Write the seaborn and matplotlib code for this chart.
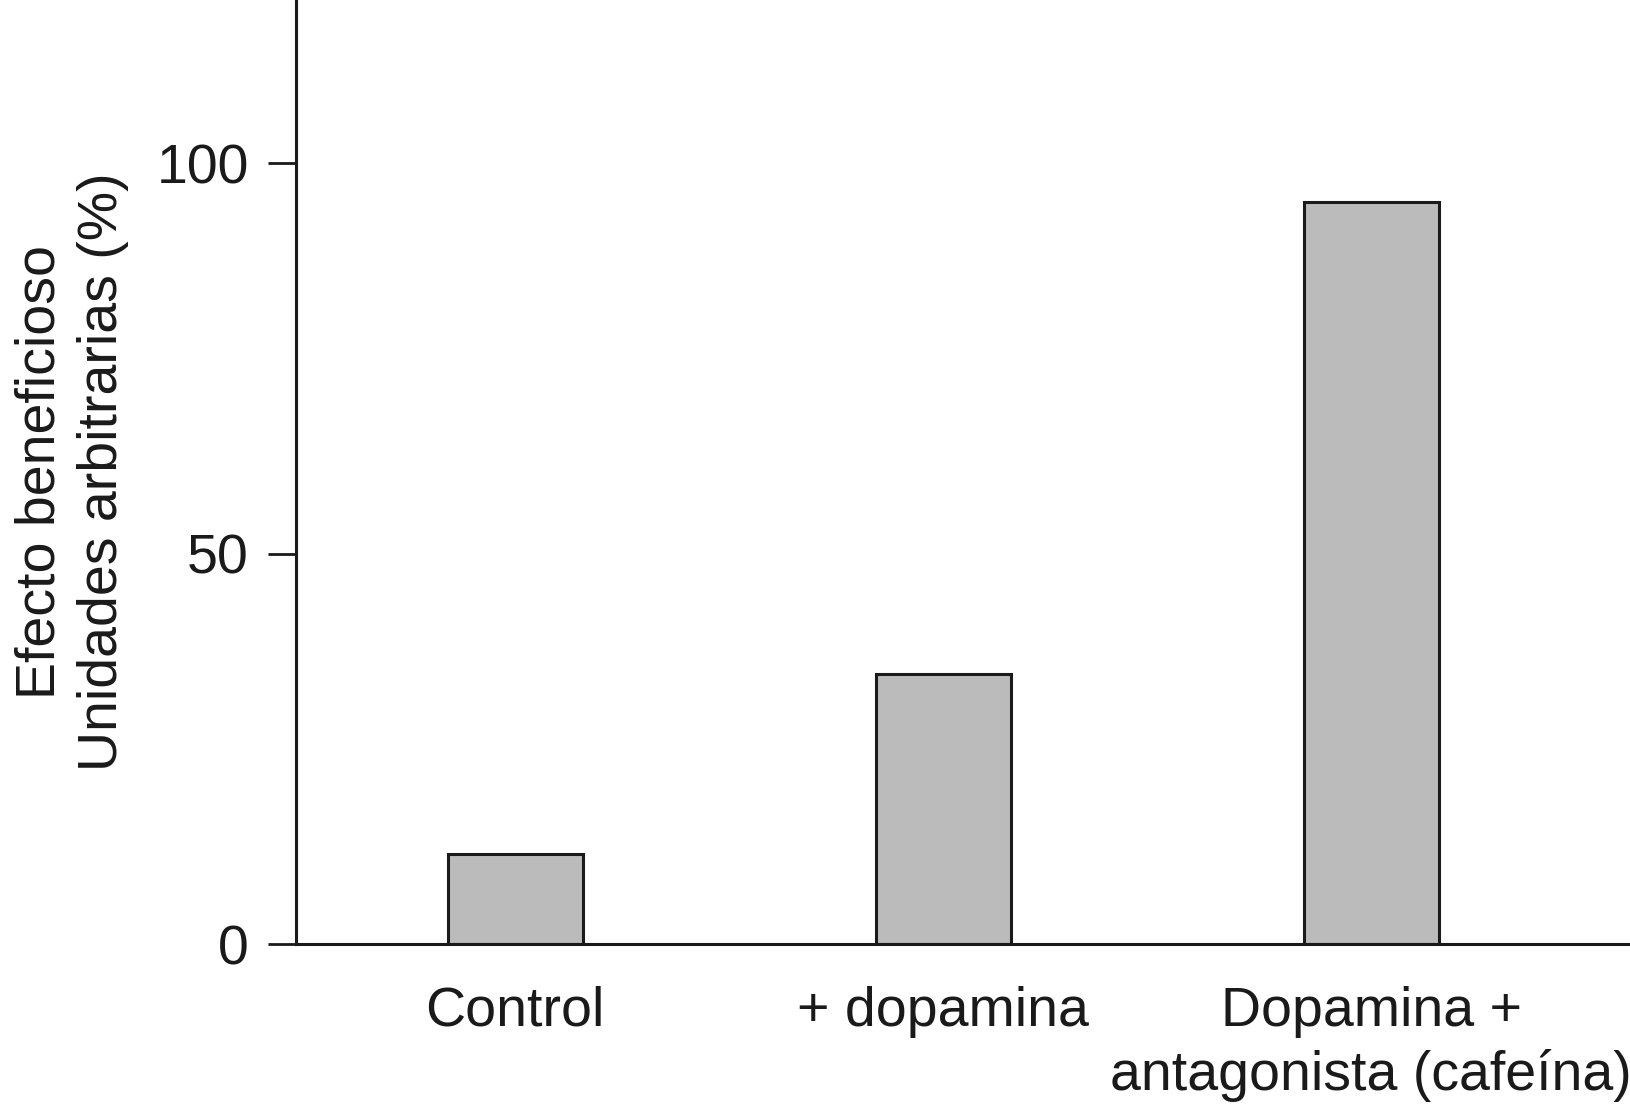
import matplotlib
matplotlib.use('Agg')
import matplotlib.pyplot as plt
import seaborn as sns
import pandas as pd

sns.set_style('ticks')
plt.rcParams['font.family'] = ['Liberation Sans', 'DejaVu Sans']

# values
grupos = ['Control', '+ dopamina', 'Dopamina +\nantagonista (cafeína)']
efecto = [11.5, 34.6, 95.0]
y_ticks = [0, 50, 100]

df = pd.DataFrame({'grupo': grupos, 'efecto': efecto})

dark = '#1a1a1a'

fig = plt.figure(figsize=(16.31, 11.11), dpi=100)
ax = fig.add_axes([0.1815, 0.1503, 0.8185, 0.8497])

sns.barplot(data=df, x='grupo', y='efecto', color='#bbbbbb', saturation=1,
            edgecolor=dark, linewidth=2.2, width=0.315, errorbar=None, ax=ax)

ax.set_xlim(-0.512, 2.607)
ax.set_ylim(0, 120.9)
ax.set_yticks(y_ticks)
ax.set_xlabel('')
ax.set_ylabel('Efecto beneficioso\nUnidades arbitrarias (%)', fontsize=40,
              color=dark, linespacing=1.27)
ax.yaxis.set_label_coords(-0.125, 0.5)

ax.tick_params(axis='y', length=20, width=2, pad=14, labelsize=40,
               color=dark, labelcolor=dark)
ax.tick_params(axis='x', length=0, pad=30, labelsize=40, labelcolor=dark)
for lab in ax.get_xticklabels():
    lab.set_linespacing(1.27)

sns.despine(ax=ax)
for side in ['left', 'bottom']:
    ax.spines[side].set_linewidth(2.2)
    ax.spines[side].set_color(dark)

fig.savefig('out.png', dpi=100)
